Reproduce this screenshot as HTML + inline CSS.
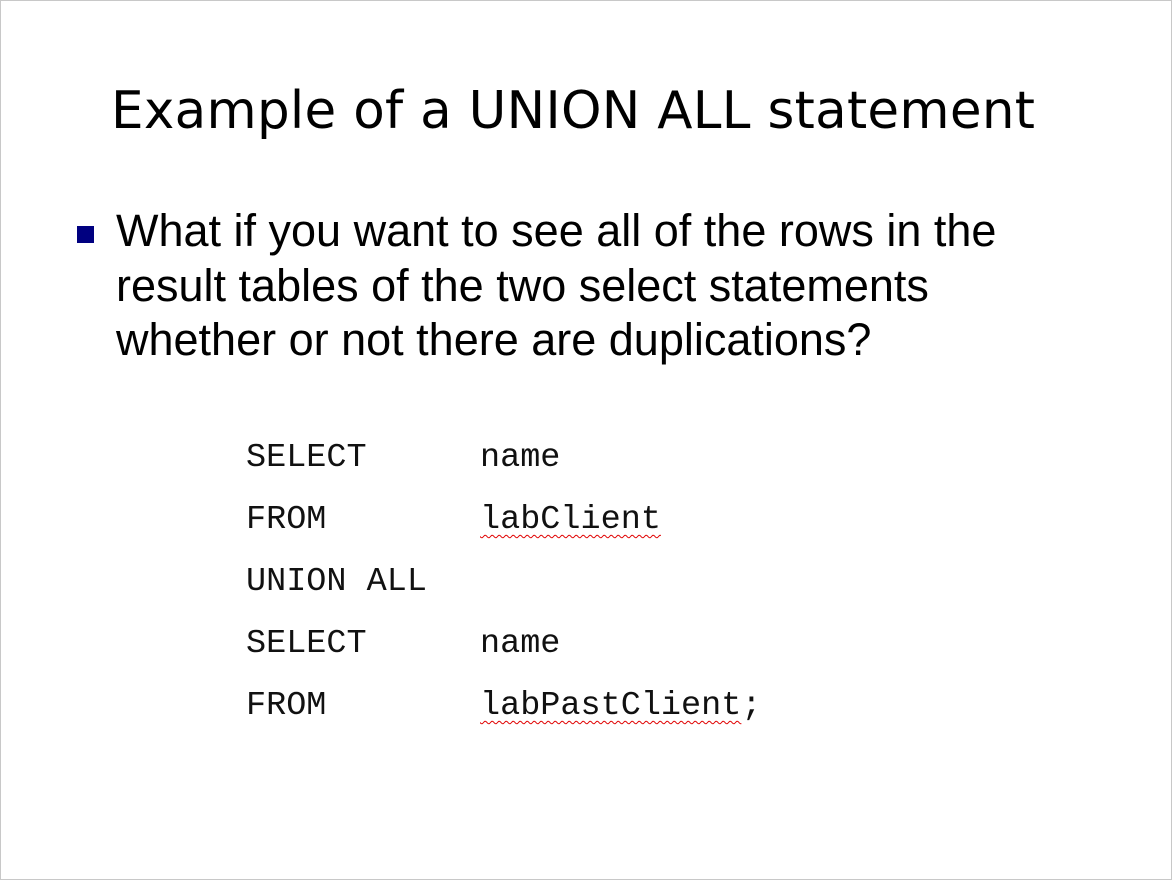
<!DOCTYPE html>
<html><head><meta charset="utf-8"><style>
html,body{margin:0;padding:0;background:#fff;}
.page{position:relative;width:1170px;height:878px;border:1px solid #c8c8c8;overflow:hidden;}
.title{position:absolute;left:110px;top:80px;font-family:"DejaVu Sans",sans-serif;font-size:51.5px;color:#000;white-space:nowrap;letter-spacing:0.3px;}
.bul{position:absolute;left:76px;top:225px;width:17px;height:17px;background:#000080;}
.txt{position:absolute;left:115px;top:203px;font-family:"Liberation Sans",sans-serif;font-size:45px;line-height:54.5px;color:#000;white-space:nowrap;}
.code{position:absolute;font-family:"Liberation Mono",monospace;font-size:33.5px;color:#111;white-space:nowrap;line-height:40px;}
.sq{text-decoration:underline wavy #e00000;text-decoration-thickness:1px;text-underline-offset:6px;}
</style></head><body><div class="page">
<div class="title">Example of a UNION ALL statement</div>
<div class="bul"></div>
<div class="txt">What if you want to see all of the rows in the<br>result tables of the two select statements<br>whether or not there are duplications?</div>
<div class="code" style="left:245px;top:437px">SELECT</div><div class="code" style="left:479px;top:437px">name</div>
<div class="code" style="left:245px;top:499px">FROM</div><div class="code" style="left:479px;top:499px"><span class="sq">labClient</span></div>
<div class="code" style="left:245px;top:561px">UNION ALL</div>
<div class="code" style="left:245px;top:623px">SELECT</div><div class="code" style="left:479px;top:623px">name</div>
<div class="code" style="left:245px;top:685px">FROM</div><div class="code" style="left:479px;top:685px"><span class="sq">labPastClient</span>;</div>
</div></body></html>
